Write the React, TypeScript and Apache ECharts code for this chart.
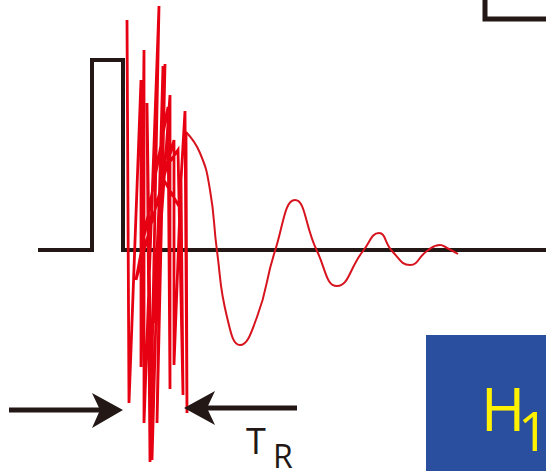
import React, { useEffect, useRef } from "react";
import * as echarts from "echarts";

const W = 546;
const H = 471;

const INK = "#231815";
const RED = "#E60012";
const RED2 = "#D7141E";
const BLUE = "#2A4F9F";
const YELLOW = "#FFF100";

// excitation pulse and baseline
const pulseLine = [[38, 250], [92, 250], [92, 60], [123, 60], [123, 250], [546, 250]];
// partially visible box at the top right
const cornerLine = [[485, -5], [485, 19], [551, 19]];
// noisy ring-down during the recovery time
const noisePoints = [
  [127, 20], [129, 403], [141, 80], [141, 367], [144, 50], [144, 423],
  [159, 6], [150, 462], [147, 103], [152, 460], [163, 66], [157, 423],
  [165, 64], [154, 323], [170, 95], [170, 389], [168, 107], [136, 280],
  [174, 140], [174, 365], [180, 208], [161, 175], [178, 150], [183, 395],
  [181, 180], [185, 111], [187, 413], [186, 132],
];
// damped oscillation after the recovery time
const ringdownPoints = [
  [186, 132], [200, 153], [210, 190], [217, 251], [227, 317], [240, 345],
  [257, 317], [275, 251], [295, 200], [317, 251], [337, 286], [363, 251],
  [379, 233], [392, 251], [410, 265], [427, 251], [440, 245], [447, 248], [458, 254],
];
const leftArrowShaft = [[9, 410], [100, 410]];
const rightArrowShaft = [[207, 408], [297, 408]];
const leftArrowHead = [[123, 410], [92, 393], [100, 410], [92, 428]];
const rightArrowHead = [[184, 408], [215, 391], [207, 408], [215, 425]];

export default function App() {
  const ref = useRef<HTMLDivElement>(null);
  useEffect(() => {
    if (!ref.current) return;
    const chart = echarts.init(ref.current, null, { renderer: "svg" });
    const line = (data: number[][], color: string, width: number, z: number, smooth = false) => ({
      type: "line",
      data,
      showSymbol: false,
      symbol: "none",
      smooth,
      z,
      lineStyle: { color, width, join: "miter", cap: "butt" },
      silent: true,
    });
    chart.setOption({
      animation: false,
      backgroundColor: "#ffffff",
      grid: { left: 0, right: 0, top: 0, bottom: 0 },
      xAxis: { type: "value", min: 0, max: W, show: false },
      yAxis: { type: "value", min: 0, max: H, inverse: true, show: false },
      series: [
        line(pulseLine, INK, 4, 2),
        line(cornerLine, INK, 5, 2),
        line(leftArrowShaft, INK, 5, 2),
        line(rightArrowShaft, INK, 5, 2),
        line(ringdownPoints, RED2, 2, 3, true),
        line(noisePoints, RED, 2.8, 4),
      ],
      graphic: [
        { type: "polygon", shape: { points: leftArrowHead }, style: { fill: INK }, z: 5 },
        { type: "polygon", shape: { points: rightArrowHead }, style: { fill: INK }, z: 5 },
        { type: "rect", shape: { x: 426, y: 335, width: 130, height: 140 }, style: { fill: BLUE }, z: 10 },
        { type: "text", x: 481, y: 408, z: 11, style: { text: "H", fill: YELLOW, font: '60px "Open Sans"', verticalAlign: "middle" } },
        { type: "text", x: 518, y: 430, z: 11, style: { text: "1", fill: YELLOW, font: '54px "Open Sans"', verticalAlign: "middle" } },
        { type: "text", x: 246, y: 440, z: 11, style: { text: "T", fill: INK, font: '36px "Open Sans"', verticalAlign: "middle" } },
        { type: "text", x: 273, y: 455, z: 11, style: { text: "R", fill: INK, font: '32px "Open Sans"', lineHeight: 30, verticalAlign: "middle" } },
      ],
    });
    return () => chart.dispose();
  }, []);
  return <div ref={ref} style={{ position: "absolute", left: 0, top: 0, width: W, height: H }} />;
}
